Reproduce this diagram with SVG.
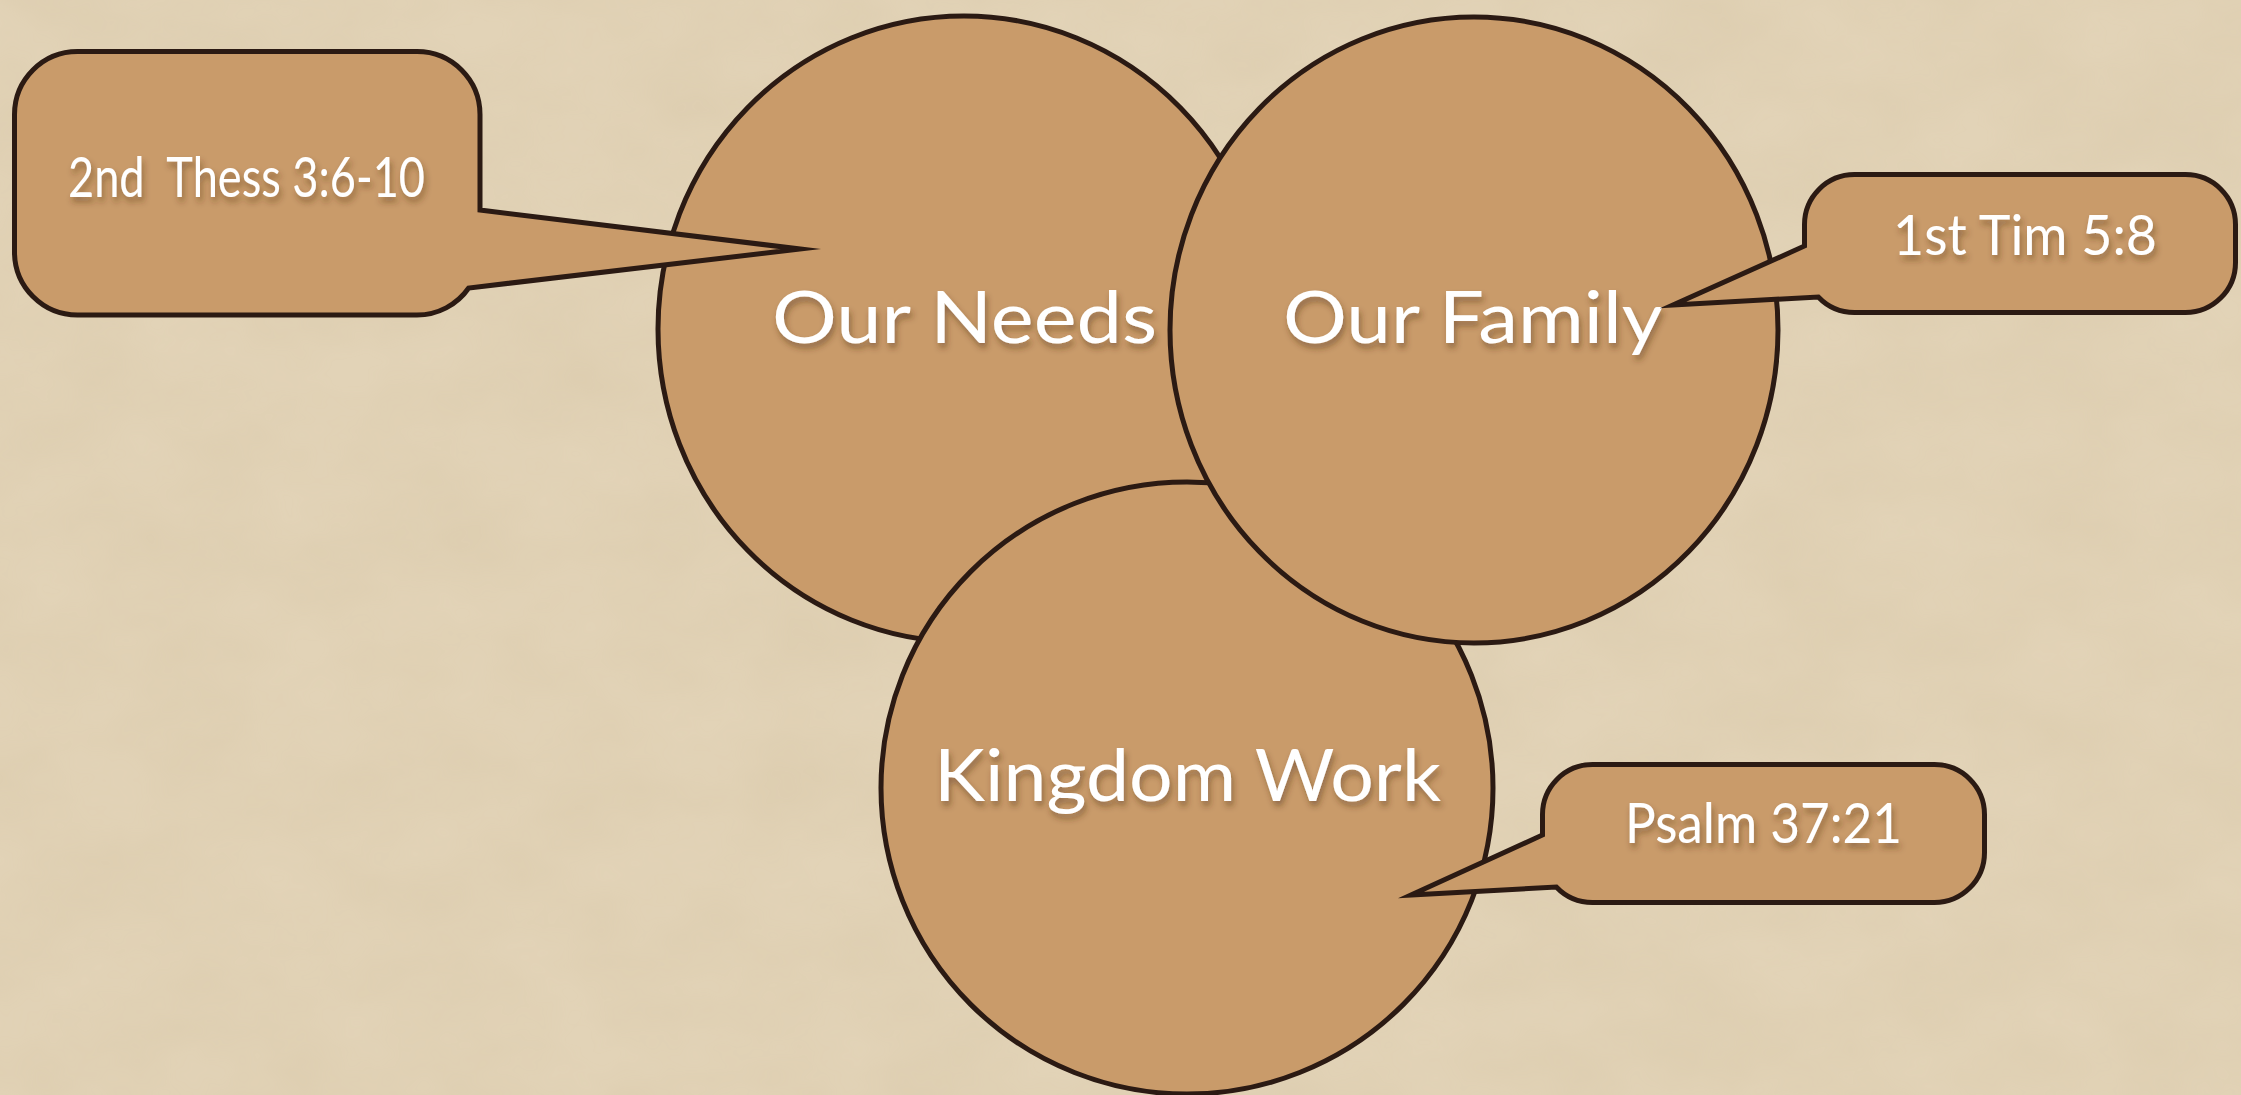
<svg xmlns="http://www.w3.org/2000/svg" width="2241" height="1095" viewBox="0 0 2241 1095">
  <defs>
    <filter id="paper" x="0" y="0" width="100%" height="100%">
      <feTurbulence type="fractalNoise" baseFrequency="0.008 0.012" numOctaves="4" seed="7" result="n"/>
      <feColorMatrix in="n" type="matrix" values="0 0 0 0 0.62  0 0 0 0 0.5  0 0 0 0 0.32  0 0 0 0.3 -0.06" result="c"/>
      <feComposite in="c" in2="SourceGraphic" operator="in"/>
    </filter>
    <filter id="shadow" x="-10%" y="-30%" width="120%" height="160%">
      <feDropShadow dx="2" dy="5" stdDeviation="3" flood-color="#4a2e14" flood-opacity="0.45"/>
    </filter>
  </defs>
  <style>
    .shape { fill: #c99b6a; stroke: #2b1a13; stroke-width: 5; stroke-linejoin: miter; stroke-miterlimit: 20; }
    .label { fill: #ffffff; font-family: "Lato", "Open Sans", "Liberation Sans", sans-serif; font-weight: 400; text-anchor: middle; filter: url(#shadow); }
    .big { font-size: 72px; }
    .small { font-size: 57px; }
  </style>

  <!-- background -->
  <rect x="0" y="0" width="2241" height="1095" fill="#e2d3b7"/>
  <rect x="0" y="0" width="2241" height="1095" fill="#e2d3b7" filter="url(#paper)"/>

  <g id="node-our-needs">
    <ellipse class="shape" cx="964" cy="329" rx="306" ry="313"/>
    <text class="label big" x="964.5" y="343" textLength="385" lengthAdjust="spacingAndGlyphs">Our Needs</text>
  </g>

  <g id="node-kingdom-work">
    <ellipse class="shape" cx="1187" cy="788" rx="306" ry="306"/>
    <text class="label big" x="1187.5" y="801" textLength="507" lengthAdjust="spacingAndGlyphs">Kingdom Work</text>
  </g>

  <g id="node-our-family">
    <ellipse class="shape" cx="1474" cy="330" rx="304" ry="313"/>
    <text class="label big" x="1473" y="343" textLength="380" lengthAdjust="spacingAndGlyphs">Our Family</text>
  </g>

  <g id="callout-2nd-thess">
    <path class="shape" d="M 77.5 51.5 H 417 A 63 63 0 0 1 480 114.5 V 210 L 800 249 L 468.7 288 A 63 63 0 0 1 417 315 H 77.5 A 63 63 0 0 1 14.5 252 V 114.5 A 63 63 0 0 1 77.5 51.5 Z"/>
    <text class="label small" x="246.5" y="197" textLength="357" lengthAdjust="spacingAndGlyphs" xml:space="preserve">2nd  Thess 3:6-10</text>
  </g>

  <g id="callout-1st-tim">
    <path class="shape" d="M 1854.5 174.5 H 2185.5 A 50 50 0 0 1 2235.5 224.5 V 262.5 A 50 50 0 0 1 2185.5 312.5 H 1854.5 A 50 50 0 0 1 1818.3 297 L 1673 305 L 1804.5 246 V 224.5 A 50 50 0 0 1 1854.5 174.5 Z"/>
    <text class="label small" x="2025" y="255" textLength="264" lengthAdjust="spacingAndGlyphs">1st Tim 5:8</text>
  </g>

  <g id="callout-psalm">
    <path class="shape" d="M 1592.5 764.5 H 1934.5 A 50 50 0 0 1 1984.5 814.5 V 852.5 A 50 50 0 0 1 1934.5 902.5 H 1592.5 A 50 50 0 0 1 1556.3 887 L 1411 895 L 1542.5 835 V 814.5 A 50 50 0 0 1 1592.5 764.5 Z"/>
    <text class="label small" x="1763.5" y="843" textLength="277" lengthAdjust="spacingAndGlyphs">Psalm 37:21</text>
  </g>
</svg>
